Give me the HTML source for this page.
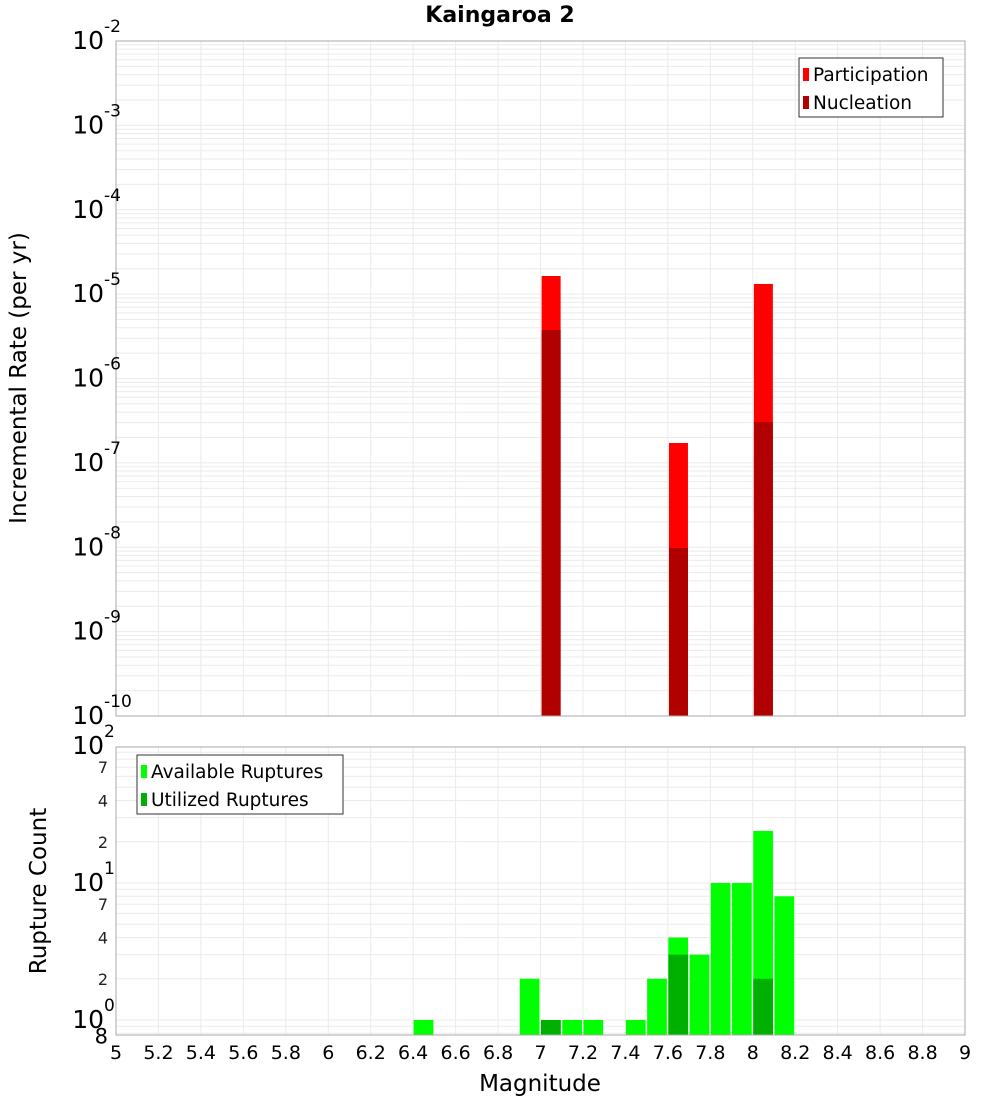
<!DOCTYPE html>
<html><head><meta charset="utf-8"><style>
body{margin:0;background:#fff;}
svg text{font-family:"DejaVu Sans","Liberation Sans",sans-serif;}
</style></head><body>
<svg id="c" width="1000" height="1100" xmlns="http://www.w3.org/2000/svg"></svg>
<script>
const xTicks=[5,5.2,5.4,5.6,5.8,6,6.2,6.4,6.6,6.8,7,7.2,7.4,7.6,7.8,8,8.2,8.4,8.6,8.8,9];
const topMags=[7.05,7.65,8.05];
const partVals=[1.64e-5,1.72e-7,1.32e-5];
const nuclVals=[3.76e-6,9.8e-9,3.05e-7];
const topExps=[-2,-3,-4,-5,-6,-7,-8,-9,-10];
const botMags=[6.45,6.95,7.05,7.15,7.25,7.45,7.55,7.65,7.75,7.85,7.95,8.05,8.15];
const availVals=[1,2,1,1,1,1,2,4,3,10,10,24,8];
const utilMags=[7.05,7.65,8.05];
const utilVals=[1,3,2];
const botMinor=["2","4","7"];
const botMinorVals=[2,4,7];

const svg=document.getElementById('c');
const NS='http://www.w3.org/2000/svg';
function mk(t,a,p){const e=document.createElementNS(NS,t);for(const k in a)e.setAttribute(k,a[k]);(p||svg).appendChild(e);return e;}
const L=116,R=965;
const X=m=>L+(m-5)/4*(R-L);
const T0=41,T1=716;
const Yt=v=>T0+(-2-Math.log10(v))*(T1-T0)/8;
const B0=747,B1=1035,DEC=137,ONE=1020;
const Yb=v=>ONE-Math.log10(v)*DEC;

const gt=mk('g',{});

for(let e=-10;e<-2;e++)for(let k=1;k<10;k++){const y=Yt(k*Math.pow(10,e));if(y>=T0&&y<=T1)mk('line',{x1:L,x2:R,y1:y,y2:y,stroke:'#ebebeb','stroke-width':1},gt);}
xTicks.forEach(m=>mk('line',{x1:X(m),x2:X(m),y1:T0,y2:T1,stroke:'#ebebeb'},gt));
const gb=mk('g',{});

for(let e=-1;e<2;e++)for(let k=1;k<10;k++){const y=Yb(k*Math.pow(10,e));if(y>=B0&&y<=B1)mk('line',{x1:L,x2:R,y1:y,y2:y,stroke:'#ebebeb'},gb);}
xTicks.forEach(m=>mk('line',{x1:X(m),x2:X(m),y1:B0,y2:B1,stroke:'#ebebeb'},gb));

const bw=19;
topMags.forEach((m,i)=>{
 let r=mk('rect',{x:X(m)-bw/2,y:Yt(partVals[i]),width:bw,height:T1-Yt(partVals[i]),fill:'#ff0000'});
 
 r=mk('rect',{x:X(m)-bw/2,y:Yt(nuclVals[i]),width:bw,height:T1-Yt(nuclVals[i]),fill:'#b00000'});
 
});
const w=(R-L)/40;
botMags.forEach((m,i)=>{
 const r=mk('rect',{x:X(m)-w/2+0.5,y:Yb(availVals[i]),width:w-1.5,height:B1-Yb(availVals[i]),fill:'#00ff00'});
 
});
utilMags.forEach((m,i)=>{
 const r=mk('rect',{x:X(m)-w/2+0.5,y:Yb(utilVals[i]),width:w-1.5,height:B1-Yb(utilVals[i]),fill:'#00b000'});
 
});

let f=mk('rect',{x:L,y:T0,width:R-L,height:T1-T0,fill:'none',stroke:'#aaa'});

f=mk('rect',{x:L,y:B0,width:R-L,height:B1-B0,fill:'none',stroke:'#aaa'});


topExps.forEach(e=>{
 const t=mk('text',{x:104,y:Yt(Math.pow(10,e))+8,'text-anchor':'end','font-size':25,fill:'#000'});
 
 t.textContent='10';
 const s=mk('text',{x:104,y:Yt(Math.pow(10,e))-9,'font-size':17,fill:'#000'});
 
 s.textContent=String(e);
});
[0,1,2].forEach(e=>{
 const t=mk('text',{x:104,y:Yb(Math.pow(10,e))+8,'text-anchor':'end','font-size':25,fill:'#000'});
 
 t.textContent='10';
 const s=mk('text',{x:104,y:Yb(Math.pow(10,e))-9,'font-size':17,fill:'#000'});
 
 s.textContent=String(e);
});
[0.1,1,10].forEach(d=>botMinorVals.forEach((v,i)=>{
 const y=Yb(v*d);if(y<B0||y>B1)return;
 const t=mk('text',{x:108,y:y+6,'text-anchor':'end','font-size':16,fill:'#222'});
 
 t.textContent=botMinor[i];
}));
let e8=mk('text',{x:108,y:Yb(0.8)+10,'text-anchor':'end','font-size':21,fill:'#000'});

e8.textContent='8';

xTicks.forEach(m=>{
 const t=mk('text',{x:X(m),y:1059,'text-anchor':'middle','font-size':19,fill:'#000'});
 
 t.textContent=String(m);
});
let t=mk('text',{x:540,y:1091,'text-anchor':'middle','font-size':23,fill:'#000'});
t.textContent='Magnitude';
t=mk('text',{x:500,y:22,'text-anchor':'middle','font-size':22,'font-weight':'bold',fill:'#000'});
t.textContent='Kaingaroa 2';
t=mk('text',{x:0,y:0,'text-anchor':'middle','font-size':23,fill:'#000',transform:'translate(26,378) rotate(-90)'});
t.textContent='Incremental Rate (per yr)';
t=mk('text',{x:0,y:0,'text-anchor':'middle','font-size':23,fill:'#000',transform:'translate(46,891) rotate(-90)'});
t.textContent='Rupture Count';

function legend(x,y,wd,items,name){
 const g=mk('g',{});
 mk('rect',{x:x,y:y,width:wd,height:59,fill:'#fff',stroke:'#333'},g);
 items.forEach((it,i)=>{
  const sw=mk('rect',{x:x+4,y:y+10+i*28,width:6,height:13,fill:it[1]},g);
  
  const tt=mk('text',{x:x+14,y:y+23+i*28,'font-size':18.5,fill:'#000'},g);
  
  tt.textContent=it[0];
 });
}
legend(799,58,144,[['Participation','#ff0000'],['Nucleation','#b00000']],'top-legend');
legend(137,755,206,[['Available Ruptures','#00ff00'],['Utilized Ruptures','#00b000']],'bottom-legend');
</script>
</body></html>
